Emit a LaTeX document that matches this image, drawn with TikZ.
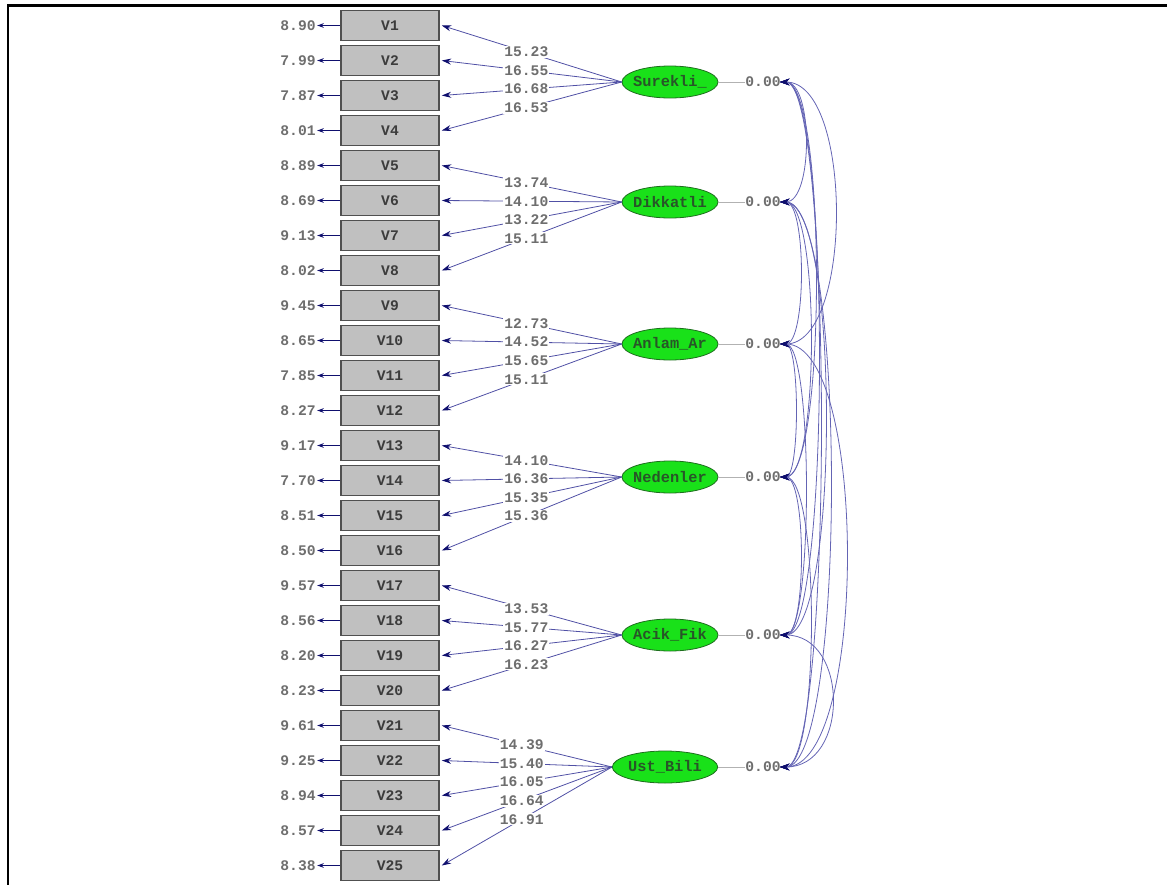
\documentclass[tikz,border=0pt]{standalone}
\usepackage{fontspec}
\newfontfamily\lisfont{Liberation Mono}
\usepackage{tikz}
\usetikzlibrary{arrows.meta,shapes.geometric}

\definecolor{pathblue}{RGB}{80,80,165}
\definecolor{covblue}{RGB}{100,100,180}
\definecolor{tipblue}{RGB}{15,15,110}
\definecolor{boxgray}{RGB}{192,192,192}
\definecolor{boxedge}{RGB}{80,80,80}
\definecolor{boxtext}{RGB}{60,60,60}
\definecolor{latgreen}{RGB}{25,225,25}
\definecolor{latedge}{RGB}{30,110,30}
\definecolor{lattext}{RGB}{40,85,40}
\definecolor{txtgray}{RGB}{110,110,110}

\begin{document}
\begin{tikzpicture}[
    % GLOBAL CFG
    x=0.75pt, y=-0.75pt,
    font=\lisfont\bfseries\fontsize{11}{12}\selectfont,
    % Styles
    obs/.style={% For the observed variables V1..V25
        rectangle,
        draw=boxedge,
        fill=boxgray,
        line width=1.2pt,
        minimum width=73.5pt,
        minimum height=22.5pt,
        inner sep=0pt,
        text=boxtext,
        },
    latent/.style={% For the latent factors
        ellipse,
        draw=latedge,
        fill=latgreen,
        line width=0.6pt,
        minimum width=72pt,
        minimum height=24pt,
        inner sep=-8pt,
        text=lattext,
        font=\lisfont\bfseries\fontsize{11.5}{12}\selectfont,
        },
    errval/.style={% For the error variances on the left
        text=txtgray,
        inner sep=1pt,
        },
    lval/.style={% For the values on the loadings
        fill=white,
        text=txtgray,
        inner sep=0.8pt,
        },
    zval/.style={% For the factor variances
        text=txtgray,
        inner sep=0pt,
        },
    loading/.style={% Arrows from factor to variable
        -{Stealth[length=7pt,width=4.5pt,color=tipblue]},
        draw=pathblue,
        line width=0.6pt,
        },
    errarrow/.style={% Short arrows to the error values
        -{Stealth[length=5pt,width=3.5pt,color=tipblue]},
        draw=tipblue,
        line width=0.75pt,
        },
    zeroline/.style={% Thin line to the factor variances
        draw=black!30,
        line width=0.4pt,
        },
    cov/.style={% Curved covariances between factors
        {Stealth[length=7pt,width=5pt,color=tipblue]}-{Stealth[length=7pt,width=5pt,color=tipblue]},
        draw=covblue,
        line width=0.6pt,
        },
    ]

\useasboundingbox (0,0) rectangle (1167,885);
% Frame
\draw[line width=1.6pt] (8,885) -- (8,5.5) -- (1167,5.5);

% Draw the observed variables named v# and their errors named e#
\foreach \n/\ev in {1/8.90, 2/7.99, 3/7.87, 4/8.01, 5/8.89, 6/8.69, 7/9.13,
    8/8.02, 9/9.45, 10/8.65, 11/7.85, 12/8.27, 13/9.17, 14/7.70, 15/8.51,
    16/8.50, 17/9.57, 18/8.56, 19/8.20, 20/8.23, 21/9.61, 22/9.25, 23/8.94,
    24/8.57, 25/8.38}{
    \node[obs] (v\n) at (390,{25.5+35*(\n-1)}) {V\n};
    \node[errval] (e\n) at (298,{25.5+35*(\n-1)}) {\ev};
    \draw[errarrow] (v\n.west) -- (e\n.east);
}

% Draw the factors named f#
\node[latent] (f1) at (670,82) {Surekli\_};
\node[latent] (f2) at (670,202) {Dikkatli};
\node[latent] (f3) at (670,344) {Anlam\_Ar};
\node[latent] (f4) at (670,477) {Nedenler};
\node[latent] (f5) at (670,635) {Acik\_Fik};
\node[latent, minimum width=79pt] (f6) at (665,767) {Ust\_Bili};

% Factor variances named z#
\foreach \i/\y in {1/82, 2/202, 3/344, 4/477, 5/635, 6/767}{
    \node[zval] (z\i) at (763,\y) {0.00};
    \draw[zeroline] (f\i.east) -- (z\i.west);
    \coordinate (k\i) at (780,\y);
}

% Loadings
\foreach \f/\n/\val in {f1/1/15.23, f1/2/16.55, f1/3/16.68, f1/4/16.53,
    f2/5/13.74, f2/6/14.10, f2/7/13.22, f2/8/15.11,
    f3/9/12.73, f3/10/14.52, f3/11/15.65, f3/12/15.11,
    f4/13/14.10, f4/14/16.36, f4/15/15.35, f4/16/15.36,
    f5/17/13.53, f5/18/15.77, f5/19/16.27, f5/20/16.23,
    f6/21/14.39, f6/22/15.40, f6/23/16.05, f6/24/16.64, f6/25/16.91}{
    \draw[loading] (\f.west) -- ([xshift=1.5]v\n.east) node[pos=0.53, lval] {\val};
}

% Covariances between the factors
\foreach \i/\j/\b in {1/2/25, 1/3/55, 1/4/35, 1/5/38, 1/6/40, 2/3/20, 2/4/30,
    2/5/45, 2/6/50, 3/4/15, 3/5/25, 3/6/66, 4/5/20, 4/6/30, 5/6/52}{
    \draw[cov] (k\i) .. controls +({\b*1.333},0) and +({\b*1.333},0) .. (k\j);
}

\end{tikzpicture}
\end{document}
